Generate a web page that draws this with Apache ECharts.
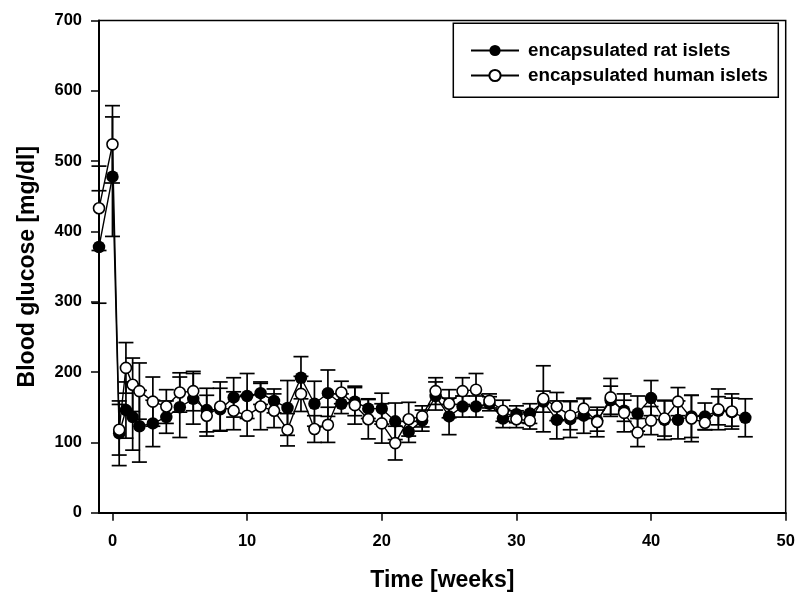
<!DOCTYPE html>
<html>
<head>
<meta charset="utf-8">
<script src="https://cdn.jsdelivr.net/npm/echarts@6/dist/echarts.min.js"></script>
<style>html,body{margin:0;padding:0;background:#fff;}#c{width:797px;height:594px;}</style>
</head>
<body>
<div id="c"></div>
<script>
const FONT = '"Liberation Sans", Arial, Helvetica, sans-serif';
const seriesNames = ['encapsulated rat islets', 'encapsulated human islets'];
const xTicks = [0, 10, 20, 30, 40, 50];
const yTicks = [0, 100, 200, 300, 400, 500, 600, 700];

const weeksRat = [-1, 0, 0.5, 1, 1.5, 2, 3, 4, 5, 6, 7, 8, 9, 10, 11, 12, 13, 14, 15, 16, 17, 18, 19, 20, 21, 22, 23, 24, 25, 26, 27, 28, 29, 30, 31, 32, 33, 34, 35, 36, 37, 38, 39, 40, 41, 42, 43, 44, 45, 46, 47];
const ratMean = [378, 478, 113, 146, 136, 123, 127, 136, 150, 162, 146, 147, 164, 166, 170, 159, 149, 192, 155, 170, 155, 158, 148, 148, 130, 115, 131, 166, 137, 151, 151, 155, 134, 140, 141, 158, 132, 133, 138, 131, 160, 145, 141, 163, 132, 132, 137, 137, 145, 143, 135];
const ratSD = [80, 85, 46, 40, 47, 51, 33, 23, 43, 36, 31, 30, 28, 32, 16, 17, 39, 30, 32, 33, 14, 20, 14, 22, 26, 15, 15, 20, 26, 15, 15, 10, 13, 12, 14, 15, 27, 26, 25, 15, 20, 15, 25, 25, 28, 27, 30, 19, 20, 20, 27];

const weeksHuman = [-1, 0, 0.5, 1, 1.5, 2, 3, 4, 5, 6, 7, 8, 9, 10, 11, 12, 13, 14, 15, 16, 17, 18, 19, 20, 21, 22, 23, 24, 25, 26, 27, 28, 29, 30, 31, 32, 33, 34, 35, 36, 37, 38, 39, 40, 41, 42, 43, 44, 45, 46];
const humanMean = [433, 524, 118, 206, 182, 173, 158, 151, 171, 173, 138, 151, 145, 138, 151, 145, 118, 169, 119, 125, 171, 153, 133, 127, 99, 133, 137, 173, 155, 173, 175, 159, 145, 133, 131, 162, 151, 138, 148, 129, 164, 142, 114, 131, 134, 158, 134, 128, 147, 144];
const humanSD = [60, 55, 36, 36, 38, 40, 35, 24, 28, 28, 29, 35, 27, 29, 33, 24, 23, 25, 19, 25, 16, 27, 28, 28, 24, 24, 15, 19, 20, 19, 23, 10, 15, 12, 12, 47, 20, 20, 14, 21, 27, 27, 20, 20, 25, 20, 33, 10, 29, 25];

function pts(xs, ys) { return xs.map((x, i) => [x, ys[i]]); }
function errPts(xs, ys, sd) { return xs.map((x, i) => [x, ys[i], sd[i]]); }

function renderErr(params, api) {
  const x = api.value(0), m = api.value(1), s = api.value(2);
  const top = api.coord([x, m + s]);
  const bot = api.coord([x, m - s]);
  const hw = 7.5;
  const st = { stroke: '#000', lineWidth: 1.7 };
  return {
    type: 'group',
    children: [
      { type: 'line', shape: { x1: top[0], y1: top[1], x2: bot[0], y2: bot[1] }, style: st },
      { type: 'line', shape: { x1: top[0] - hw, y1: top[1], x2: top[0] + hw, y2: top[1] }, style: st },
      { type: 'line', shape: { x1: bot[0] - hw, y1: bot[1], x2: bot[0] + hw, y2: bot[1] }, style: st }
    ]
  };
}

const chart = echarts.init(document.getElementById('c'), null, { renderer: 'canvas' });
chart.setOption({
  backgroundColor: '#fff',
  animation: false,
  grid: {
    left: 99, right: 11.3, top: 20.6, bottom: 81.3,
    containLabel: false, outerBoundsMode: 'none',
    show: true, borderColor: '#000', borderWidth: 1.5, backgroundColor: 'transparent'
  },
  xAxis: {
    type: 'value', min: -1, max: 50,
    name: 'Time [weeks]', nameLocation: 'middle', nameGap: 56,
    nameTextStyle: { fontFamily: FONT, fontWeight: 'bold', fontSize: 23, color: '#000' },
    axisLine: { show: true, onZero: false, lineStyle: { color: '#000', width: 2 } },
    axisTick: { show: true, customValues: xTicks, length: 8, inside: false, lineStyle: { color: '#000', width: 1.5 } },
    axisLabel: { customValues: xTicks, fontFamily: FONT, fontWeight: 'bold', fontSize: 16.5, color: '#000', margin: 20, lineHeight: 17 },
    splitLine: { show: false }
  },
  yAxis: {
    type: 'value', min: 0, max: 700, interval: 100,
    name: 'Blood glucose [mg/dl]', nameLocation: 'middle', nameGap: 60,
    nameTextStyle: { fontFamily: FONT, fontWeight: 'bold', fontSize: 23, color: '#000' },
    axisLine: { show: true, onZero: false, lineStyle: { color: '#000', width: 2 } },
    axisTick: { show: true, customValues: yTicks, length: 8, inside: false, lineStyle: { color: '#000', width: 1.5 } },
    axisLabel: { customValues: yTicks, fontFamily: FONT, fontWeight: 'bold', fontSize: 16.5, color: '#000', margin: 17 },
    splitLine: { show: false }
  },
  legend: {
    orient: 'vertical', left: 465, top: 36,
    itemWidth: 48, itemHeight: 14, itemGap: 6,
    textStyle: { fontFamily: FONT, fontWeight: 'bold', fontSize: 18.8, color: '#000', padding: [0, 0, 0, 4] },
    data: seriesNames
  },
  graphic: [
    { type: 'rect', shape: { x: 453.3, y: 23.3, width: 325, height: 74 }, style: { fill: 'none', stroke: '#000', lineWidth: 1.5 }, z: 100 }
  ],
  series: [
    {
      type: 'custom', name: 'ratErr', renderItem: renderErr, data: errPts(weeksRat, ratMean, ratSD),
      encode: { x: 0, y: 1 }, z: 1, clip: false, silent: true
    },
    {
      type: 'line', name: seriesNames[0], data: pts(weeksRat, ratMean), z: 2, clip: false,
      symbol: 'circle', symbolSize: 12.5, showAllSymbol: true,
      lineStyle: { color: '#000', width: 1.4 },
      itemStyle: { color: '#000', borderColor: '#000', borderWidth: 0 }
    },
    {
      type: 'custom', name: 'humanErr', renderItem: renderErr, data: errPts(weeksHuman, humanMean, humanSD),
      encode: { x: 0, y: 1 }, z: 3, clip: false, silent: true
    },
    {
      type: 'line', name: seriesNames[1], data: pts(weeksHuman, humanMean), z: 4, clip: false,
      symbol: 'circle', symbolSize: 11, showAllSymbol: true,
      lineStyle: { color: '#000', width: 1.4 },
      itemStyle: { color: '#fff', borderColor: '#000', borderWidth: 1.6 }
    }
  ]
});
</script>
</body>
</html>
